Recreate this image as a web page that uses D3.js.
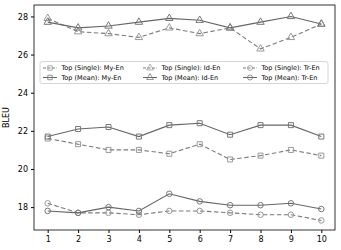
<!DOCTYPE html>
<html>
<head>
<meta charset="utf-8">
<script src="https://cdn.jsdelivr.net/npm/d3@7"></script>
<style>
  body { margin: 0; background: #fff; }
  text { font-family: "DejaVu Sans", sans-serif; }
</style>
</head>
<body>
<div id="chart"></div>
<script>
// Data
const steps = [1, 2, 3, 4, 5, 6, 7, 8, 9, 10];
const myEnSingle = [21.6, 21.3, 21.0, 21.0, 20.8, 21.3, 20.5, 20.7, 21.0, 20.7];
const myEnMean = [21.7, 22.1, 22.2, 21.7, 22.3, 22.4, 21.8, 22.3, 22.3, 21.7];
const idEnSingle = [27.9, 27.2, 27.1, 26.9, 27.4, 27.1, 27.4, 26.3, 26.9, 27.6];
const idEnMean = [27.7, 27.4, 27.5, 27.7, 27.9, 27.8, 27.4, 27.7, 28.0, 27.6];
const trEnSingle = [18.2, 17.7, 17.7, 17.6, 17.8, 17.8, 17.7, 17.6, 17.6, 17.3];
const trEnMean = [17.8, 17.7, 18.0, 17.8, 18.7, 18.3, 18.1, 18.1, 18.2, 17.9];
const yTicks = [18, 20, 22, 24, 26, 28];

const series = [
  { name: "Top (Single): My-En", values: myEnSingle, marker: "square", dashed: true },
  { name: "Top (Mean): My-En", values: myEnMean, marker: "square", dashed: false },
  { name: "Top (Single): Id-En", values: idEnSingle, marker: "triangle", dashed: true },
  { name: "Top (Mean): Id-En", values: idEnMean, marker: "triangle", dashed: false },
  { name: "Top (Single): Tr-En", values: trEnSingle, marker: "circle", dashed: true },
  { name: "Top (Mean): Tr-En", values: trEnMean, marker: "circle", dashed: false }
];

const margin = { top: 5, right: 6, bottom: 20, left: 34 };
const W = 341, H = 250;
const width = W - margin.left - margin.right;
const height = H - margin.top - margin.bottom;

const svg = d3.select("#chart").append("svg")
    .attr("width", W).attr("height", H);
const g = svg.append("g")
    .attr("transform", "translate(" + margin.left + "," + margin.top + ")");

const x = d3.scaleLinear().domain([0.55, 10.45]).range([0, width]);
const y = d3.scaleLinear().domain([16.8, 28.6]).range([height, 0]);

const symbols = { square: d3.symbolSquare, triangle: d3.symbolTriangle, circle: d3.symbolCircle };
const symbolSize = { square: 25, triangle: 24, circle: 24 };

const line = d3.line().x((d, i) => x(steps[i])).y(d => y(d));

series.forEach(s => {
  const color = s.dashed ? "#7a7a7a" : "#666";
  g.append("path")
    .datum(s.values)
    .attr("d", line)
    .attr("fill", "none")
    .attr("stroke", color)
    .attr("stroke-width", 1.1)
    .attr("stroke-dasharray", s.dashed ? "4.5,2.5" : null);
  g.append("g").selectAll("path")
    .data(s.values)
    .join("path")
    .attr("transform", (d, i) => "translate(" + x(steps[i]) + "," + y(d) + ")")
    .attr("d", d3.symbol().type(symbols[s.marker]).size(symbolSize[s.marker]))
    .attr("fill", "none")
    .attr("stroke", s.dashed ? "#999" : "#777")
    .attr("stroke-width", 1);
});

// axes
const xAxis = g.append("g")
    .attr("transform", "translate(0," + height + ")")
    .call(d3.axisBottom(x).tickValues(steps).tickSize(3).tickPadding(3));
const yAxis = g.append("g")
    .call(d3.axisLeft(y).tickValues(yTicks).tickSize(3).tickPadding(3));
[xAxis, yAxis].forEach(a => {
  a.selectAll("text").style("font-size", "8px").attr("fill", "#000");
  a.select(".domain").remove();
});

g.append("rect")
    .attr("width", width).attr("height", height)
    .attr("fill", "none").attr("stroke", "#000").attr("stroke-width", 0.8);

svg.append("text")
    .attr("transform", "translate(9," + (margin.top + height / 2) + ") rotate(-90)")
    .attr("text-anchor", "middle")
    .style("font-size", "8px")
    .text("BLEU");

// legend
const legend = g.append("g").attr("transform", "translate(6,56.5)");
legend.append("rect")
    .attr("width", 288).attr("height", 22)
    .attr("rx", 2)
    .attr("fill", "#fff").attr("fill-opacity", 0.8)
    .attr("stroke", "#ccc").attr("stroke-width", 0.8);
series.forEach((s, i) => {
  const col = Math.floor(i / 2), row = i % 2;
  const color = s.dashed ? "#7a7a7a" : "#666";
  const item = legend.append("g")
      .attr("transform", "translate(" + (3 + col * 100) + "," + (6.5 + row * 9.5) + ")");
  item.append("line")
      .attr("x1", 0).attr("x2", 14)
      .attr("stroke", color).attr("stroke-width", 1)
      .attr("stroke-dasharray", s.dashed ? "3,1.5" : null);
  item.append("path")
    .attr("transform", "translate(7,0)")
    .attr("d", d3.symbol().type(symbols[s.marker]).size(20))
    .attr("fill", "none").attr("stroke", s.dashed ? "#999" : "#777").attr("stroke-width", 0.8);
  item.append("text")
      .attr("x", 18.5).attr("y", 2.3)
      .style("font-size", "6.5px")
      .text(s.name);
});
</script>
</body>
</html>
